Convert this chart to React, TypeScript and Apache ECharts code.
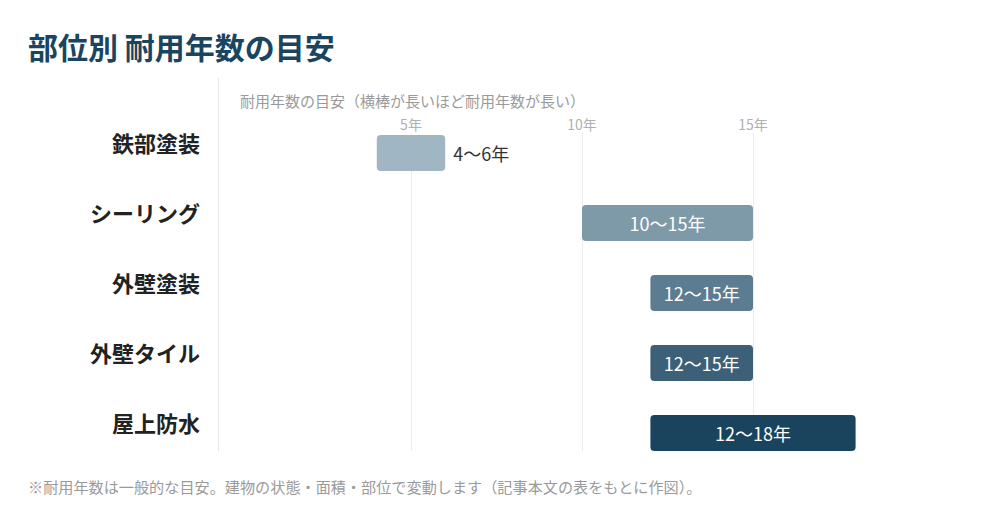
import React, { useEffect, useRef } from "react";
import * as echarts from "echarts";

const categories = ["鉄部塗装", "シーリング", "外壁塗装", "外壁タイル", "屋上防水"];
const lowYears = [4, 10, 12, 12, 12];
const highYears = [6, 15, 15, 15, 18];
const barColors = ["#a0b6c2", "#7e9aa9", "#5c7c91", "#3c6078", "#1a445d"];
const axisTicks = [0, 5, 10, 15, 20];

const FONT = "'Noto Sans CJK JP', 'Noto Sans', sans-serif";

export default function App() {
  const ref = useRef<HTMLDivElement>(null);

  useEffect(() => {
    document.body.style.margin = "0";
    if (!ref.current) return;
    const chart = echarts.init(ref.current, undefined, { renderer: "svg" });

    const spans = highYears.map((h, i) => h - lowYears[i]);
    const xMin = axisTicks[0];
    const xMax = axisTicks[axisTicks.length - 1];

    chart.setOption({
      animation: false,
      backgroundColor: "#ffffff",
      textStyle: { fontFamily: FONT },
      title: [
        {
          text: "部位別 耐用年数の目安",
          left: 28,
          top: 31,
          padding: 0,
          textStyle: { fontSize: 30, fontWeight: "bold", color: "#1a4560", fontFamily: FONT },
        },
        {
          text: "耐用年数の目安（横棒が長いほど耐用年数が長い）",
          left: 240,
          top: 93,
          padding: 0,
          textStyle: { fontSize: 15, fontWeight: "normal", color: "#9a9a9a", fontFamily: FONT },
        },
        {
          text: "※耐用年数は一般的な目安。建物の状態・面積・部位で変動します（記事本文の表をもとに作図）。",
          left: 28,
          top: 478,
          padding: 0,
          textStyle: { fontSize: 15.15, fontWeight: "normal", color: "#9a9a9a", fontFamily: FONT },
        },
      ],
      graphic: [
        {
          type: "line",
          shape: { x1: 218.5, y1: 78, x2: 218.5, y2: 451 },
          style: { stroke: "#e6e6e6", lineWidth: 1 },
          silent: true,
        },
      ],
      grid: [
        { left: 240, width: 684, top: 118, height: 350 },
        { left: 240, width: 684, top: 133, height: 318 },
      ],
      xAxis: [
        {
          gridIndex: 0,
          type: "value",
          min: xMin,
          max: xMax,
          interval: 5,
          show: false,
        },
        {
          gridIndex: 1,
          type: "value",
          position: "top",
          min: xMin,
          max: xMax,
          interval: 5,
          axisLine: { show: false },
          axisTick: { show: false },
          axisLabel: {
            show: true,
            margin: 2,
            fontSize: 14,
            color: "#b0b0b0",
            fontFamily: FONT,
            showMinLabel: false,
            showMaxLabel: false,
            formatter: (v: number) => `${v}年`,
          },
          splitLine: {
            show: true,
            showMinLine: false,
            showMaxLine: false,
            lineStyle: { color: "#ececec", width: 1 },
          },
        },
      ],
      yAxis: [
        {
          gridIndex: 0,
          type: "category",
          data: categories,
          inverse: true,
          axisLine: { show: false },
          axisTick: { show: false },
          splitLine: { show: false },
          axisLabel: {
            margin: 40,
            fontSize: 22,
            fontWeight: "bold",
            color: "#222222",
            fontFamily: FONT,
            verticalAlign: "bottom",
            lineHeight: 22,
          },
        },
        {
          gridIndex: 1,
          type: "value",
          min: 0,
          max: 1,
          show: false,
        },
      ],
      series: [
        {
          type: "bar",
          xAxisIndex: 0,
          yAxisIndex: 0,
          stack: "range",
          barWidth: 36,
          silent: true,
          itemStyle: { color: "transparent" },
          data: lowYears,
        },
        {
          type: "bar",
          xAxisIndex: 0,
          yAxisIndex: 0,
          stack: "range",
          barWidth: 36,
          data: spans.map((s, i) => ({
            value: s,
            itemStyle: { color: barColors[i], borderRadius: 4 },
            label:
              i === 0
                ? { position: "right", distance: 8, color: "#333333" }
                : { position: "inside", color: "#ffffff" },
          })),
          label: {
            show: true,
            fontSize: 18,
            fontFamily: FONT,
            formatter: (p: any) => `${lowYears[p.dataIndex]}〜${highYears[p.dataIndex]}年`,
          },
        },
        {
          type: "scatter",
          xAxisIndex: 1,
          yAxisIndex: 1,
          data: [],
        },
      ],
    });

    return () => chart.dispose();
  }, []);

  return <div ref={ref} style={{ width: 1000, height: 510 }} />;
}
